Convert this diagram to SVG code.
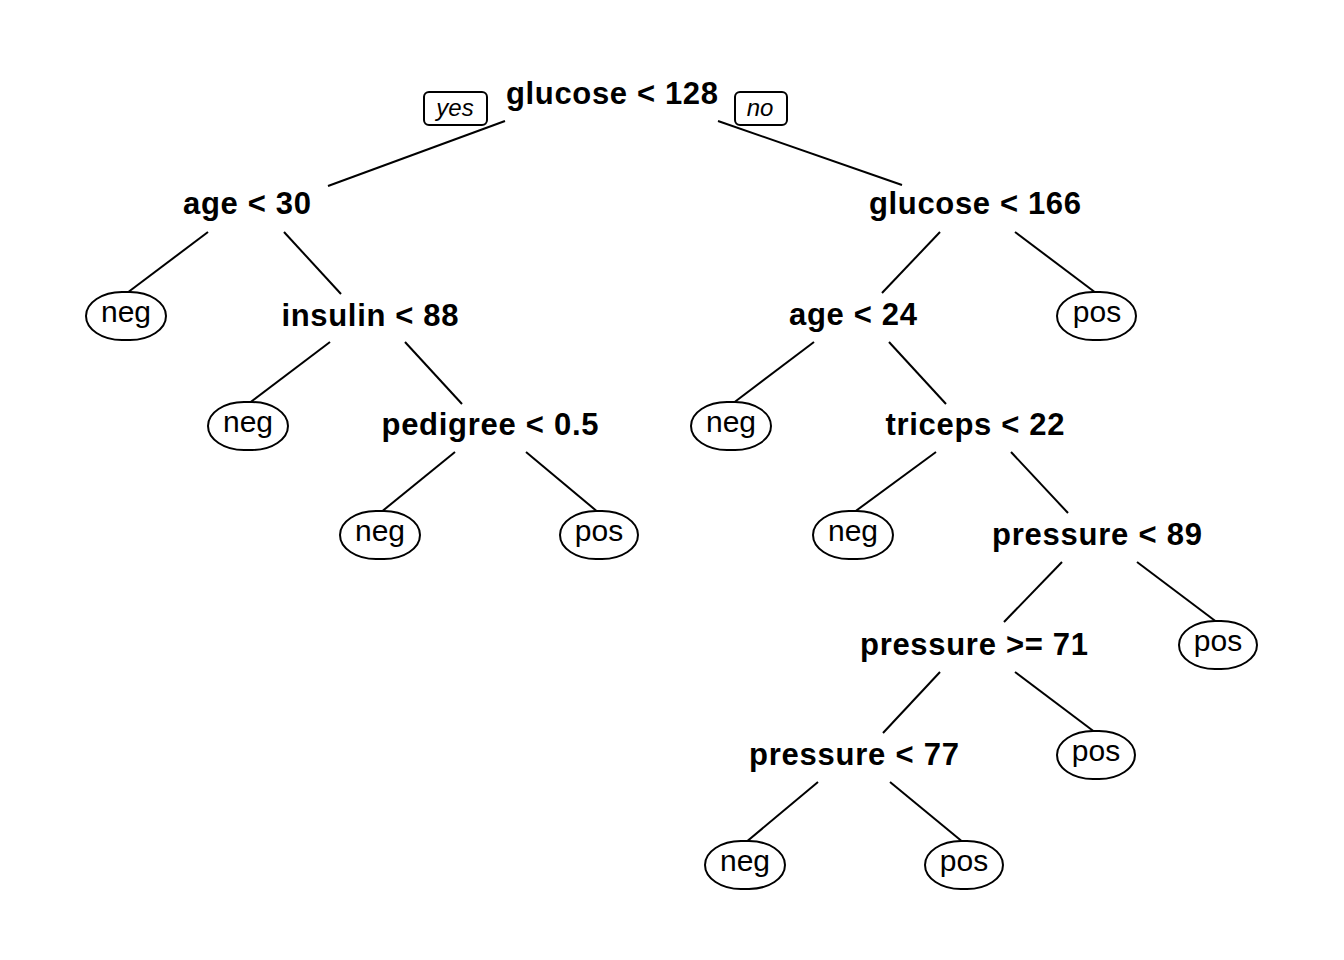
<svg xmlns="http://www.w3.org/2000/svg" width="1344" height="960" viewBox="0 0 1344 960">
<style>
.split{font-family:"Liberation Sans",Arial,sans-serif;font-weight:bold;font-size:31px;text-anchor:middle;fill:#000}
.leaf text{font-family:"Liberation Sans",Arial,sans-serif;font-size:30px;text-anchor:middle;fill:#000}
.leaf rect{fill:#fff;stroke:#000;stroke-width:2}
.lab text{font-family:"Liberation Sans",Arial,sans-serif;font-style:italic;font-size:24px;text-anchor:middle;fill:#000}
.lab rect{fill:#fff;stroke:#000;stroke-width:2}
#connectors line{stroke:#000;stroke-width:2}
</style>
<rect width="1344" height="960" fill="#fff"/>
<g id="connectors">
<line x1="505" y1="121" x2="328" y2="186"/>
<line x1="718" y1="121" x2="902" y2="185"/>
<line x1="208" y1="232" x2="127" y2="293"/>
<line x1="284" y1="232" x2="341" y2="294"/>
<line x1="940" y1="232" x2="882" y2="293"/>
<line x1="1015" y1="232" x2="1096" y2="293"/>
<line x1="330" y1="342" x2="248" y2="404"/>
<line x1="405" y1="342" x2="462" y2="404"/>
<line x1="814" y1="342" x2="732" y2="404"/>
<line x1="889" y1="342" x2="946" y2="404"/>
<line x1="455" y1="452" x2="380" y2="513"/>
<line x1="526" y1="452" x2="599" y2="513"/>
<line x1="936" y1="452" x2="853" y2="513"/>
<line x1="1011" y1="452" x2="1068" y2="513"/>
<line x1="1062" y1="562" x2="1004" y2="622"/>
<line x1="1137" y1="562" x2="1218" y2="623"/>
<line x1="940" y1="672" x2="883" y2="733"/>
<line x1="1015" y1="672" x2="1096" y2="733"/>
<line x1="818" y1="782" x2="745" y2="843"/>
<line x1="890" y1="782" x2="964" y2="843"/>
</g>
<g id="lab-yes" class="lab"><rect x="424" y="92" width="63" height="33" rx="5"/><text x="455" y="116">yes</text></g>
<g id="lab-no" class="lab"><rect x="735" y="92" width="52" height="33" rx="5"/><text x="760" y="116">no</text></g>
<g id="n1"><text class="split" x="612" y="104" textLength="212" lengthAdjust="spacing">glucose &lt; 128</text></g>
<g id="n2"><text class="split" x="247" y="214" textLength="128" lengthAdjust="spacing">age &lt; 30</text></g>
<g id="n3"><text class="split" x="975" y="214" textLength="212" lengthAdjust="spacing">glucose &lt; 166</text></g>
<g id="n4" class="leaf"><rect x="86" y="292" width="80" height="48" rx="36" ry="24"/><text x="126" y="322">neg</text></g>
<g id="n5"><text class="split" x="370" y="326" textLength="177" lengthAdjust="spacing">insulin &lt; 88</text></g>
<g id="n6"><text class="split" x="853" y="325" textLength="128" lengthAdjust="spacing">age &lt; 24</text></g>
<g id="n7" class="leaf"><rect x="1057" y="292" width="79" height="48" rx="36" ry="24"/><text x="1097" y="322">pos</text></g>
<g id="n8" class="leaf"><rect x="208" y="402" width="80" height="48" rx="36" ry="24"/><text x="248" y="432">neg</text></g>
<g id="n9"><text class="split" x="490" y="435" textLength="217" lengthAdjust="spacing">pedigree &lt; 0.5</text></g>
<g id="n10" class="leaf"><rect x="691" y="402" width="80" height="48" rx="36" ry="24"/><text x="731" y="432">neg</text></g>
<g id="n11"><text class="split" x="975" y="435" textLength="179" lengthAdjust="spacing">triceps &lt; 22</text></g>
<g id="n12" class="leaf"><rect x="340" y="511" width="80" height="48" rx="36" ry="24"/><text x="380" y="541">neg</text></g>
<g id="n13" class="leaf"><rect x="560" y="511" width="78" height="48" rx="36" ry="24"/><text x="599" y="541">pos</text></g>
<g id="n14" class="leaf"><rect x="813" y="511" width="80" height="48" rx="36" ry="24"/><text x="853" y="541">neg</text></g>
<g id="n15"><text class="split" x="1097" y="545" textLength="210" lengthAdjust="spacing">pressure &lt; 89</text></g>
<g id="n16"><text class="split" x="974" y="655" textLength="228" lengthAdjust="spacing">pressure &gt;= 71</text></g>
<g id="n17" class="leaf"><rect x="1179" y="621" width="78" height="48" rx="36" ry="24"/><text x="1218" y="651">pos</text></g>
<g id="n18"><text class="split" x="854" y="765" textLength="210" lengthAdjust="spacing">pressure &lt; 77</text></g>
<g id="n19" class="leaf"><rect x="1057" y="731" width="78" height="48" rx="36" ry="24"/><text x="1096" y="761">pos</text></g>
<g id="n20" class="leaf"><rect x="705" y="841" width="80" height="48" rx="36" ry="24"/><text x="745" y="871">neg</text></g>
<g id="n21" class="leaf"><rect x="925" y="841" width="78" height="48" rx="36" ry="24"/><text x="964" y="871">pos</text></g>
</svg>
